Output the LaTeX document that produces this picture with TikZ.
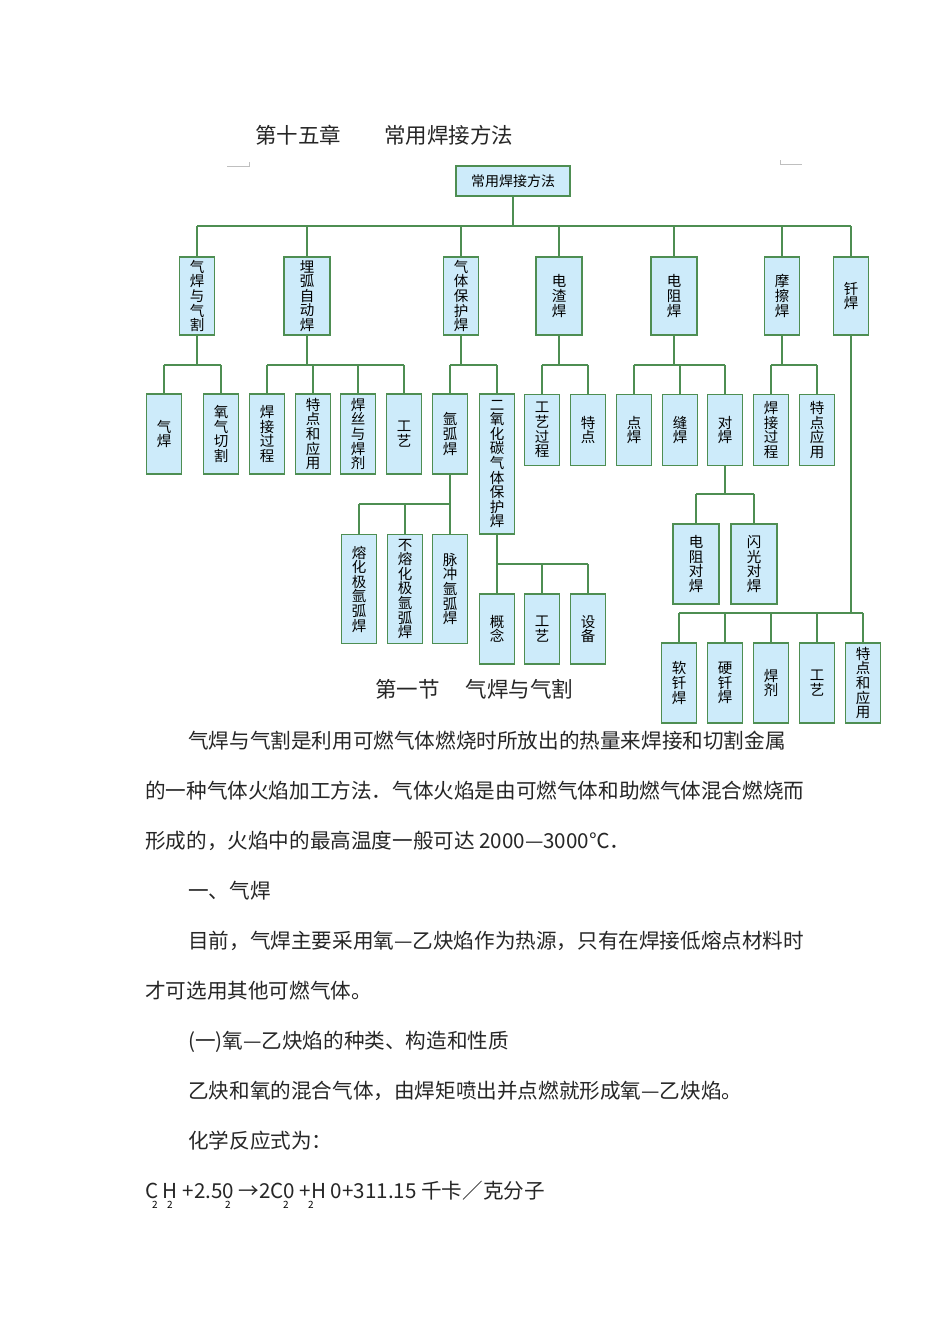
\documentclass[tikz,border=0pt]{standalone}
\usepackage{fontspec}
\setmainfont{Noto Sans CJK SC}
\begin{document}
\begin{tikzpicture}[x=1pt,y=-1pt,
  bx/.style={draw=lg,fill=lb,line width=1.3pt,minimum width=35pt,inner sep=0pt,align=center,font=\fontsize{14.5}{14.6}\selectfont},
  ln/.style={draw=lg,line width=1.3pt},
  tx/.style={anchor=base west,inner sep=0pt,font=\fontsize{20.6}{24}\selectfont,text=black!85}]
\definecolor{lg}{HTML}{4E8E52}
\definecolor{lb}{HTML}{CDEBFA}
\useasboundingbox[fill=white] (0,0) rectangle (950,1344);
\newcommand{\bus}[4]{%
  \coordinate (tmp) at (0,#2);
  \draw[ln] (#1.south) -- (#1.south |- tmp);
  \draw[ln] (#3.north |- tmp) -- (#4.north |- tmp);}
\newcommand{\drop}[2]{\coordinate (tmp) at (0,#2);\foreach \c in {#1}{\draw[ln] (\c.north) -- (\c.north |- tmp);}}
% root
\node[bx,minimum width=114pt,minimum height=30pt,font=\fontsize{14}{15}\selectfont] (root) at (513,181) {常用焊接方法};
% level 1
\node[bx,minimum height=78pt] (a) at (197,296) {气\\焊\\与\\气\\割};
\node[bx,minimum width=46pt,minimum height=78pt] (b) at (307,296) {埋\\弧\\自\\动\\焊};
\node[bx,minimum height=78pt] (c) at (461,296) {气\\体\\保\\护\\焊};
\node[bx,minimum width=46pt,minimum height=78pt] (d) at (559,296) {电\\渣\\焊};
\node[bx,minimum width=46pt,minimum height=78pt] (e) at (674,296) {电\\阻\\焊};
\node[bx,minimum height=78pt] (f) at (782,296) {摩\\擦\\焊};
\node[bx,minimum height=78pt] (g) at (851,296) {钎\\焊};
\bus{root}{226}{a}{g}
\drop{a,b,c,d,e,f,g}{226}
% level 2
\node[bx,minimum height=80pt] (a1) at (164,434) {气\\焊};
\node[bx,minimum height=80pt] (a2) at (221,434) {氧\\气\\切\\割};
\bus{a}{365}{a1}{a2}\drop{a1,a2}{365}
\node[bx,minimum height=80pt] (b1) at (267,434) {焊\\接\\过\\程};
\node[bx,minimum height=80pt] (b2) at (313,434) {特\\点\\和\\应\\用};
\node[bx,minimum height=80pt] (b3) at (358,434) {焊\\丝\\与\\焊\\剂};
\node[bx,minimum height=80pt] (b4) at (404,434) {工\\艺};
\bus{b}{365}{b1}{b4}\drop{b1,b2,b3,b4}{365}
\node[bx,minimum height=80pt] (c1) at (450,434) {氩\\弧\\焊};
\node[bx,minimum height=140pt] (c2) at (497,464) {二\\氧\\化\\碳\\气\\体\\保\\护\\焊};
\bus{c}{365}{c1}{c2}\drop{c1,c2}{365}
\node[bx,minimum height=71pt] (d1) at (542,430) {工\\艺\\过\\程};
\node[bx,minimum height=71pt] (d2) at (588,430) {特\\点};
\bus{d}{365}{d1}{d2}\drop{d1,d2}{365}
\node[bx,minimum height=71pt] (e1) at (634,430) {点\\焊};
\node[bx,minimum height=71pt] (e2) at (680,430) {缝\\焊};
\node[bx,minimum height=71pt] (e3) at (725,430) {对\\焊};
\bus{e}{365}{e1}{e3}\drop{e1,e2,e3}{365}
\node[bx,minimum height=71pt] (f1) at (771,430) {焊\\接\\过\\程};
\node[bx,minimum height=71pt] (f2) at (817,430) {特\\点\\应\\用};
\bus{f}{365}{f1}{f2}\drop{f1,f2}{365}
% level 3
\node[bx,minimum width=46pt,minimum height=80pt] (e31) at (696,564) {电\\阻\\对\\焊};
\node[bx,minimum width=46pt,minimum height=80pt] (e32) at (754,564) {闪\\光\\对\\焊};
\bus{e3}{494}{e31}{e32}\drop{e31,e32}{494}
\node[bx,minimum height=70pt] (c21) at (497,629) {概\\念};
\node[bx,minimum height=70pt] (c22) at (542,629) {工\\艺};
\node[bx,minimum height=70pt] (c23) at (588,629) {设\\备};
\bus{c2}{564}{c21}{c23}\drop{c21,c22,c23}{564}
\node[bx,minimum height=109pt] (c11) at (359,589) {熔\\化\\极\\氩\\弧\\焊};
\node[bx,minimum height=109pt] (c12) at (405,589) {不\\熔\\化\\极\\氩\\弧\\焊};
\node[bx,minimum height=109pt] (c13) at (450,589) {脉\\冲\\氩\\弧\\焊};
\bus{c1}{504}{c11}{c13}\drop{c11,c12,c13}{504}
\node[bx,minimum height=80pt] (g1) at (679,683) {软\\钎\\焊};
\node[bx,minimum height=80pt] (g2) at (725,683) {硬\\钎\\焊};
\node[bx,minimum height=80pt] (g3) at (771,683) {焊\\剂};
\node[bx,minimum height=80pt] (g4) at (817,683) {工\\艺};
\node[bx,minimum height=80pt] (g5) at (863,683) {特\\点\\和\\应\\用};
\bus{g}{613}{g1}{g5}\drop{g1,g2,g3,g4,g5}{613}
% corner marks
\coordinate (m1) at (227,166); \coordinate (m2) at (249,166);
\coordinate (m3) at (780,164); \coordinate (m4) at (802,164);
\draw[black!25,line width=0.8pt] (m1) -- (m2) -- ++(0,-4);
\draw[black!25,line width=0.8pt] (m3) ++(0,-4) -- (m3) -- (m4);
% texts
\node[tx,font=\fontsize{21.5}{24}\selectfont] (t0) at (255,143) {第十五章　　常用焊接方法};
\node[tx,font=\fontsize{21.5}{24}\selectfont] (t1) at (375,697) {第一节　 气焊与气割};
\node[tx] (p1) at (188,748) {气焊与气割是利用可燃气体燃烧时所放出的热量来焊接和切割金属};
\node[tx] (p2) at (145,798) {的一种气体火焰加工方法．气体火焰是由可燃气体和助燃气体混合燃烧而};
\node[tx] (p3) at (145,848) {形成的，火焰中的最高温度一般可达 2000—3000℃．};
\node[tx] (p4) at (188,898) {一、气焊};
\node[tx] (p5) at (188,948) {目前，气焊主要采用氧—乙炔焰作为热源，只有在焊接低熔点材料时};
\node[tx] (p6) at (145,998) {才可选用其他可燃气体。};
\node[tx] (p7) at (188,1048) {(一)氧—乙炔焰的种类、构造和性质};
\node[tx] (p8) at (188,1098) {乙炔和氧的混合气体，由焊矩喷出并点燃就形成氧—乙炔焰。};
\node[tx] (p9) at (188,1148) {化学反应式为：};
\node[tx] (p10) at (145,1198) {C H +2.50 →2C0 +H 0+311.15 千卡／克分子};
\foreach \xx/\nm in {155/s1,170/s2,228/s3,286/s4,311/s5}
  \node[anchor=base,inner sep=0pt,font=\fontsize{10}{12}\selectfont] (\nm) at (\xx,1208) {2};
\end{tikzpicture}
\end{document}
